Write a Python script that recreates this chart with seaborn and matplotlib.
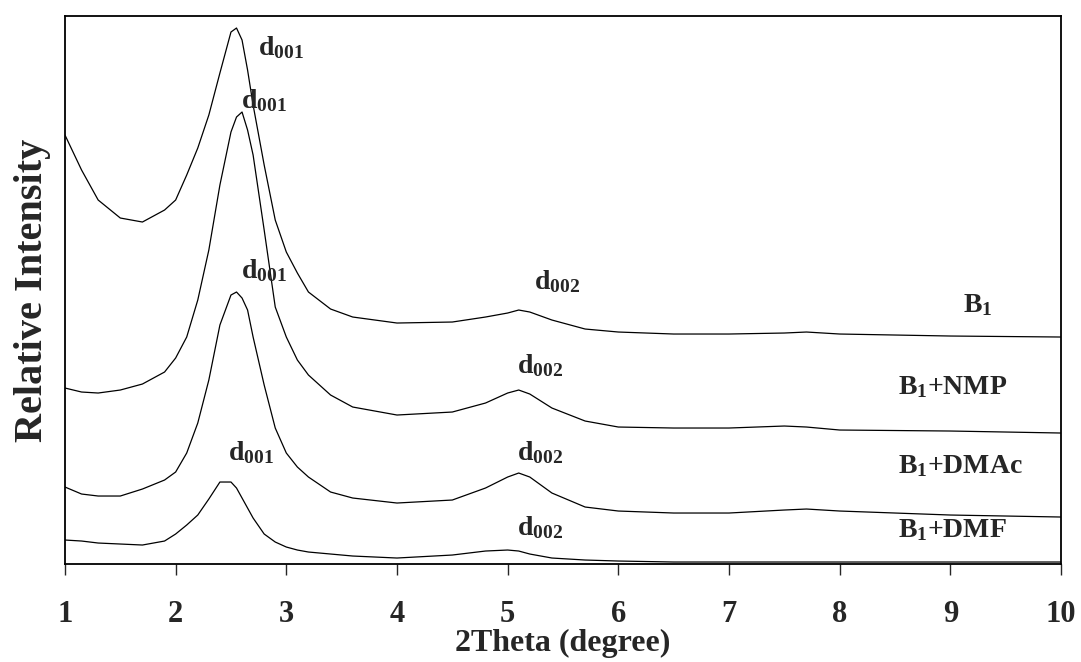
"""XRD patterns of B1 and its solvent-treated samples."""
import matplotlib
matplotlib.use('Agg')
import matplotlib.pyplot as plt
import numpy as np
import pandas as pd
import seaborn as sns

two_theta = [1.0, 1.15, 1.3, 1.5, 1.7, 1.9, 2.0, 2.1, 2.2, 2.3, 2.4, 2.5, 2.55,
             2.6, 2.65, 2.7, 2.8, 2.9, 3.0, 3.1, 3.2, 3.4, 3.6, 4.0, 4.5, 4.8,
             5.0, 5.1, 5.2, 5.4, 5.7, 6.0, 6.5, 7.0, 7.5, 7.7, 8.0, 9.0, 10.0]

# relative intensity (stacked, arbitrary units)
b1 = [429, 394, 364, 346, 342, 354, 364, 389, 416, 449, 491, 532, 536,
      524, 494, 459, 399, 344, 312, 291, 272, 255, 247, 241, 242, 247,
      251, 254, 252, 244, 235, 232, 230, 230, 231, 232, 230, 228, 227]
b1_nmp = [176, 172, 171, 174, 180, 192, 206, 227, 264, 314, 379, 432, 447,
          452, 434, 409, 334, 257, 227, 204, 189, 169, 157, 149, 152, 161,
          171, 174, 170, 156, 143, 137, 136, 136, 138, 137, 134, 133, 131]
b1_dmac = [77, 70, 68, 68, 75, 84, 92, 111, 141, 184, 239, 269, 272,
           266, 254, 227, 179, 136, 111, 97, 87, 72, 66, 61, 64, 76,
           87, 91, 87, 71, 57, 53, 51, 51, 54, 55, 53, 49, 47]
b1_dmf = [24, 23, 21, 20, 19, 23, 30, 39, 49, 65, 82, 82, 76,
          66, 56, 46, 30, 22, 17, 14, 12, 10, 8, 6, 9, 13,
          14, 13, 10, 6, 4, 3, 2, 2, 2, 2, 2, 2, 2]

samples = ['B1', 'B1+NMP', 'B1+DMAc', 'B1+DMF']
sample_labels = ['B$_1$', 'B$_1$+NMP', 'B$_1$+DMAc', 'B$_1$+DMF']
sample_label_pos = [(9.11, 259), (8.53, 177), (8.53, 98), (8.53, 34)]

d001_pos = [(2.74, 516), (2.59, 463), (2.59, 293), (2.47, 111)]
d002_pos = [(5.24, 282), (5.08, 198), (5.08, 111), (5.08, 36)]

df = pd.DataFrame({
    'two_theta': two_theta * 4,
    'intensity': b1 + b1_nmp + b1_dmac + b1_dmf,
    'sample': np.repeat(samples, len(two_theta)),
})

sns.set_style('white')
plt.rcParams['font.family'] = ['Liberation Serif', 'DejaVu Serif']
plt.rcParams['font.weight'] = 'bold'
plt.rcParams['mathtext.fontset'] = 'custom'
plt.rcParams['mathtext.rm'] = 'Liberation Serif:bold'
plt.rcParams['mathtext.it'] = 'Liberation Serif:bold'
plt.rcParams['mathtext.bf'] = 'Liberation Serif:bold'

fig, ax = plt.subplots(figsize=(10.81, 6.62), dpi=100)
fig.subplots_adjust(left=0.0601, right=0.9815, top=0.9758, bottom=0.148)

sns.lineplot(data=df, x='two_theta', y='intensity', hue='sample', palette=['black'] * 4,
             estimator=None, legend=False, linewidth=0.9, ax=ax)

for (x, y) in d001_pos:
    ax.text(x, y, 'd$_{001}$', fontsize=20, fontweight='bold', va='center', ha='left')
for (x, y) in d002_pos:
    ax.text(x, y, 'd$_{002}$', fontsize=20, fontweight='bold', va='center', ha='left')
for lab, (x, y) in zip(sample_labels, sample_label_pos):
    ax.text(x, y, lab, fontsize=20, fontweight='bold', va='center', ha='left')

ax.set_xlim(1, 10)
ax.set_ylim(0, 548)
ax.set_xticks(range(1, 11))
ax.set_yticks([])
ax.tick_params(axis='x', direction='out', length=8, width=1, bottom=True,
               labelsize=22, pad=18)
for lbl in ax.get_xticklabels():
    lbl.set_fontweight('bold')
for sp in ax.spines.values():
    sp.set_color('black')
    sp.set_linewidth(1.3)

ax.set_xlabel('2Theta (degree)', fontsize=23, fontweight='bold', labelpad=0)
ax.set_ylabel('Relative Intensity', fontsize=29, fontweight='bold', labelpad=10)

plt.savefig('out.png', dpi=100)
